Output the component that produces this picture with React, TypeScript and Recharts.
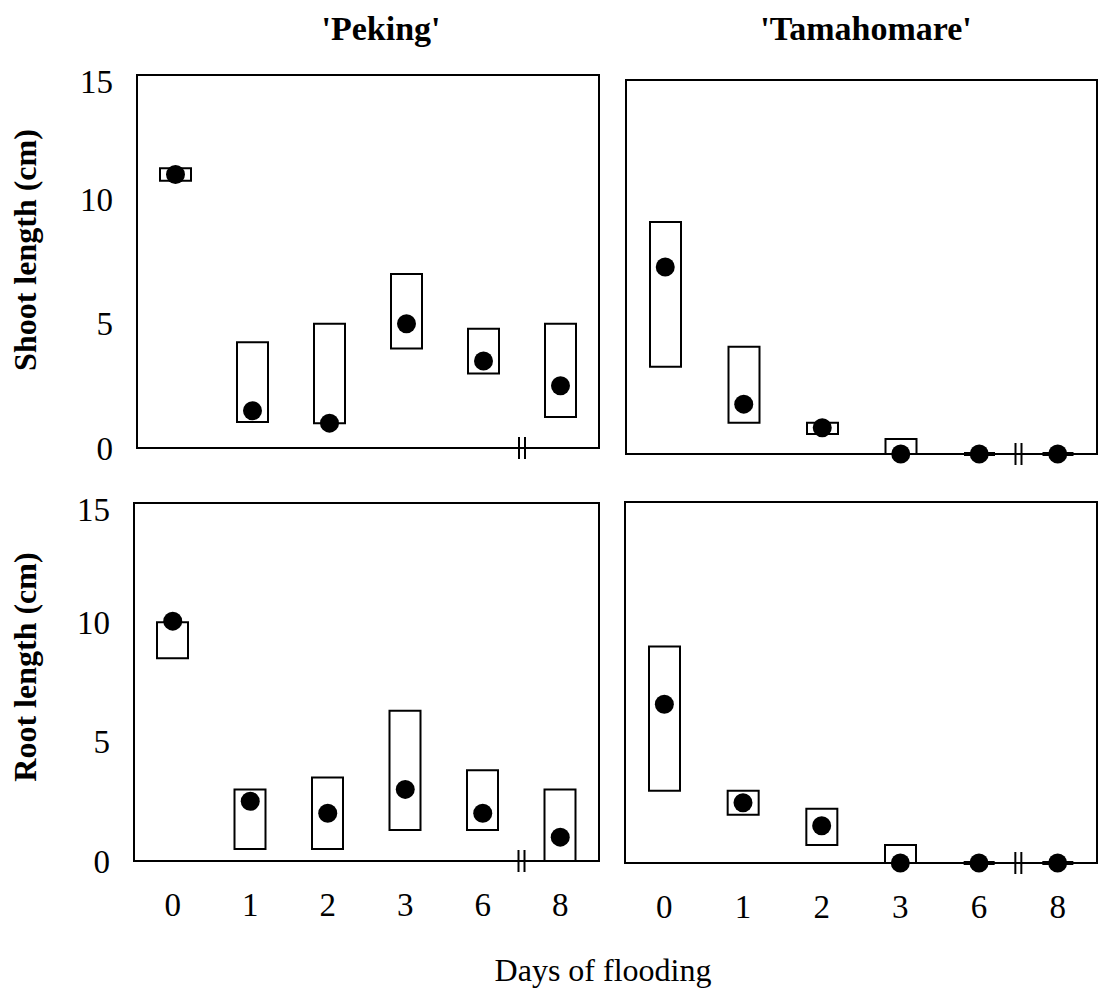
import React from "react";
import {
  ComposedChart,
  Bar,
  Scatter,
  XAxis,
  YAxis,
  ReferenceArea,
  ReferenceDot,
} from "recharts";

const days = ["0", "1", "2", "3", "6", "8"];
const yTicks = [0, 5, 10, 15];

// Peking
const pekingShootLow = [10.75, 1.05, 1, 4, 3, 1.25];
const pekingShootHigh = [11.25, 4.25, 5, 7, 4.8, 5];
const pekingShootMid = [11, 1.5, 1, 5, 3.5, 2.5];

const pekingRootLow = [8.5, 0.5, 0.5, 1.3, 1.3, 0];
const pekingRootHigh = [10, 3, 3.5, 6.3, 3.8, 3];
const pekingRootMid = [10.05, 2.5, 2, 3, 2, 1];

// Tamahomare
const tamaShootLow = [3.5, 1.25, 0.8, 0, 0, 0];
const tamaShootHigh = [9.3, 4.3, 1.25, 0.6, 0, 0];
const tamaShootMid = [7.5, 2, 1.05, 0, 0, 0];

const tamaRootLow = [3, 2, 0.75, 0, 0, 0];
const tamaRootHigh = [9, 3, 2.25, 0.75, 0, 0];
const tamaRootMid = [6.6, 2.5, 1.55, 0, 0, 0];

const FONT = "'Liberation Serif', 'Times New Roman', serif";
const PAD_L = 110;
const PAD_T = 12;
const PAD_R = 1;
const PAD_B = 70;

const BoxShape = (props: any) => {
  const { x, y, width, height } = props;
  const top = Math.min(y, y + height);
  const h = Math.abs(height);
  return (
    <path
      d={`M${x},${top}h${width}v${h}h${-width}Z`}
      fill="#fff"
      stroke="#000"
      strokeWidth={h < 1 ? 4 : 2}
    />
  );
};

const Dot = (props: any) => <circle cx={props.cx} cy={props.cy} r={9.5} fill="#000" />;

const BreakMark = (props: any) => {
  const { cx, cy } = props;
  return (
    <g stroke="#000" strokeWidth={2}>
      <line x1={cx - 3} x2={cx - 3} y1={cy - 11} y2={cy + 11} />
      <line x1={cx + 3} x2={cx + 3} y1={cy - 11} y2={cy + 11} />
    </g>
  );
};

interface PanelProps {
  low: number[];
  high: number[];
  mid: number[];
  frame: { x: number; y: number; w: number; h: number };
  showX: boolean;
  showY: boolean;
}

function Panel({ low, high, mid, frame, showX, showY }: PanelProps) {
  const data = days.map((d, i) => ({
    idx: i,
    day: d,
    range: [low[i], high[i]],
    mid: mid[i],
  }));
  const tickStyle = { fontFamily: FONT, fontSize: 33, fill: "#000" };
  return (
    <div
      style={{
        position: "absolute",
        left: frame.x - PAD_L,
        top: frame.y - PAD_T,
      }}
    >
      <ComposedChart
        width={frame.w + PAD_L + PAD_R}
        height={frame.h + PAD_T + PAD_B}
        data={data}
        margin={{ top: PAD_T, right: PAD_R, left: 0, bottom: 0 }}
      >
        <XAxis
          dataKey="idx"
          type="number"
          domain={[-0.5, 5.5]}
          ticks={[0, 1, 2, 3, 4, 5]}
          tickFormatter={(i: number) => days[i]}
          axisLine={false}
          tickLine={false}
          tickSize={0}
          tickMargin={32}
          height={PAD_B}
          tick={showX ? tickStyle : false}
        />
        <YAxis
          type="number"
          domain={[0, 15]}
          ticks={yTicks}
          axisLine={false}
          tickLine={false}
          tickSize={0}
          tickMargin={24}
          width={PAD_L}
          tick={showY ? tickStyle : false}
        />
        <ReferenceArea
          x1={-0.5}
          x2={5.5}
          y1={0}
          y2={15}
          fill="none"
          stroke="#000"
          strokeWidth={2}
          ifOverflow="visible"
        />
        <Bar dataKey="range" barSize={31} shape={BoxShape} isAnimationActive={false} />
        <Scatter dataKey="mid" shape={Dot} isAnimationActive={false} />
        <ReferenceDot x={4.5} y={0} shape={BreakMark} ifOverflow="visible" />
      </ComposedChart>
    </div>
  );
}

export default function App() {
  return (
    <div
      style={{
        position: "absolute",
        left: 0,
        top: 0,
        width: 1099,
        height: 988,
        background: "#fff",
        overflow: "hidden",
      }}
    >
      <Panel
        low={pekingShootLow}
        high={pekingShootHigh}
        mid={pekingShootMid}
        frame={{ x: 137, y: 75, w: 462, h: 373 }}
        showX={false}
        showY={true}
      />
      <Panel
        low={tamaShootLow}
        high={tamaShootHigh}
        mid={tamaShootMid}
        frame={{ x: 626, y: 80, w: 471, h: 374 }}
        showX={false}
        showY={false}
      />
      <Panel
        low={pekingRootLow}
        high={pekingRootHigh}
        mid={pekingRootMid}
        frame={{ x: 134, y: 503, w: 465, h: 358 }}
        showX={true}
        showY={true}
      />
      <Panel
        low={tamaRootLow}
        high={tamaRootHigh}
        mid={tamaRootMid}
        frame={{ x: 625, y: 502, w: 472, h: 361 }}
        showX={true}
        showY={false}
      />
      <svg
        width={1099}
        height={988}
        style={{ position: "absolute", left: 0, top: 0, pointerEvents: "none" }}
        fontFamily={FONT}
      >
        <text x={381} y={40} textAnchor="middle" fontSize={34} fontWeight="bold">
          'Peking'
        </text>
        <text x={866} y={40} textAnchor="middle" fontSize={34} fontWeight="bold">
          'Tamahomare'
        </text>
        <text
          transform="translate(36,250) rotate(-90)"
          textAnchor="middle"
          fontSize={32}
          fontWeight="bold"
        >
          Shoot length (cm)
        </text>
        <text
          transform="translate(36,667) rotate(-90)"
          textAnchor="middle"
          fontSize={32}
          fontWeight="bold"
        >
          Root length (cm)
        </text>
        <text x={603} y={981} textAnchor="middle" fontSize={32}>
          Days of flooding
        </text>
      </svg>
    </div>
  );
}
